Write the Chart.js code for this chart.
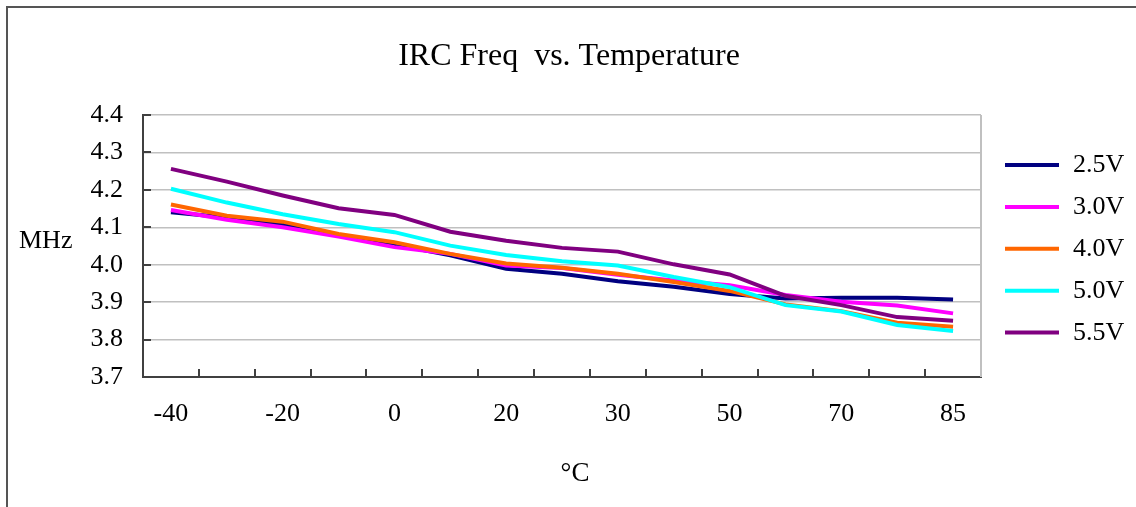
<!DOCTYPE html>
<html>
<head>
<meta charset="utf-8">
<script src="https://cdn.jsdelivr.net/npm/chart.js@4"></script>
<style>
  html, body { margin: 0; padding: 0; background: #ffffff; }
  canvas { display: block; }
</style>
</head>
<body>
<canvas id="irc-chart" width="1136" height="507"></canvas>
<script>
// data
const temps = ['-40', '-30', '-20', '-10', '0', '10', '20', '25', '30', '40', '50', '60', '70', '80', '85'];
const v25 = [4.140, 4.126, 4.109, 4.078, 4.054, 4.025, 3.989, 3.976, 3.956, 3.941, 3.922, 3.910, 3.912, 3.912, 3.907];
const v30 = [4.146, 4.120, 4.100, 4.075, 4.047, 4.029, 3.998, 3.991, 3.973, 3.958, 3.945, 3.919, 3.901, 3.891, 3.870];
const v40 = [4.161, 4.131, 4.115, 4.082, 4.060, 4.029, 4.003, 3.992, 3.976, 3.954, 3.930, 3.894, 3.876, 3.845, 3.834];
const v50 = [4.203, 4.166, 4.135, 4.109, 4.087, 4.051, 4.026, 4.009, 3.998, 3.967, 3.940, 3.892, 3.875, 3.839, 3.823];
const v55 = [4.256, 4.222, 4.185, 4.151, 4.133, 4.088, 4.064, 4.045, 4.035, 4.001, 3.974, 3.917, 3.892, 3.860, 3.850];
const seriesNames = ['2.5V', '3.0V', '4.0V', '5.0V', '5.5V'];
const seriesColors = ['#000080', '#FF00FF', '#FF6600', '#00FFFF', '#800080'];
const yMin = 3.7, yMax = 4.4, yStep = 0.1;

const FONT = "'Liberation Serif', 'Times New Roman', serif";

//chart plugins [frameAndTitles]
const frameAndTitles = {
    id: 'frameAndTitles',
    beforeDraw: (chart) => {
        const {ctx} = chart;
        ctx.save();
        ctx.fillStyle = '#ffffff';
        ctx.fillRect(0, 0, chart.width, chart.height);
        ctx.restore();
    },
    afterDraw: (chart, args, options) => {
        const {ctx, chartArea: {top, bottom, left, right}} = chart;
        ctx.save();

        // outer frame (runs off right / bottom)
        ctx.strokeStyle = '#555555';
        ctx.lineWidth = 2;
        ctx.strokeRect(7, 7, chart.width + 20, chart.height + 20);

        // plot right border
        ctx.strokeStyle = '#c0c0c0';
        ctx.lineWidth = 2;
        ctx.beginPath();
        ctx.moveTo(right, top);
        ctx.lineTo(right, bottom);
        ctx.stroke();

        ctx.fillStyle = '#000000';
        ctx.textBaseline = 'alphabetic';

        ctx.font = '32px ' + FONT;
        ctx.textAlign = 'center';
        ctx.fillText(options.title, 569, 65);

        ctx.font = '27px ' + FONT;
        ctx.fillText(options.xText, 575, 481);

        ctx.font = '26px ' + FONT;
        ctx.textAlign = 'left';
        ctx.fillText(options.yText, 19, 248);

        ctx.restore();
    }
}

//chart plugins [innerTicks]
const innerTicks = {
    id: 'innerTicks',
    afterDatasetsDraw: (chart) => {
        const {ctx, chartArea: {top, bottom, left, right}, scales: {x, y}} = chart;
        ctx.save();
        ctx.strokeStyle = '#404040';
        ctx.lineWidth = 2;
        ctx.beginPath();
        const n = x.getLabels().length;
        for (let i = 1; i <= n; i++) {
            const px = Math.round(left + i * (right - left) / n);
            ctx.moveTo(px, bottom);
            ctx.lineTo(px, bottom - 8);
        }
        y.ticks.forEach(t => {
            const py = Math.round(y.getPixelForValue(t.value));
            ctx.moveTo(left, py);
            ctx.lineTo(left + 8, py);
        });
        ctx.stroke();
        ctx.restore();
    }
}

//chart plugins [sideLegend]
const sideLegend = {
    id: 'sideLegend',
    afterDraw: (chart) => {
        const {ctx} = chart;
        ctx.save();
        ctx.font = '26px ' + FONT;
        ctx.textAlign = 'left';
        ctx.textBaseline = 'alphabetic';
        chart.data.datasets.forEach((ds, i) => {
            const yy = 165 + i * 41.9;
            ctx.strokeStyle = ds.borderColor;
            ctx.lineWidth = 4;
            ctx.beginPath();
            ctx.moveTo(1005, yy);
            ctx.lineTo(1059, yy);
            ctx.stroke();
            ctx.fillStyle = '#000000';
            ctx.fillText(ds.label, 1073, yy + 7);
        });
        ctx.restore();
    }
}

const ctx = document.getElementById('irc-chart');

const seriesValues = [v25, v30, v40, v50, v55];

let ircChart = new Chart(ctx, {
    type: 'line',
    data: {
        labels: temps,
        datasets: seriesValues.map((vals, i) => ({
            label: seriesNames[i],
            data: vals,
            borderColor: seriesColors[i],
            backgroundColor: seriesColors[i],
            borderWidth: 4,
            pointRadius: 0,
            tension: 0,
            order: seriesValues.length - i
        }))
    },
    options: {
        responsive: false,
        animation: false,
        layout: {
            padding: { top: 115, left: 0, right: 155, bottom: 0 }
        },
        scales: {
            x: {
                offset: true,
                grid: { display: false, drawTicks: false },
                border: { display: true, color: '#404040', width: 2 },
                ticks: {
                    autoSkip: false,
                    maxRotation: 0,
                    padding: 22,
                    color: '#000000',
                    font: { family: FONT, size: 26 },
                    callback: function(value, index) {
                        return index % 2 === 0 ? this.getLabelForValue(value) : '';
                    }
                },
                afterFit: (scale) => { scale.height = 130; }
            },
            y: {
                min: yMin,
                max: yMax,
                grid: { color: '#c0c0c0', lineWidth: 1.5, drawTicks: false },
                border: { display: true, color: '#404040', width: 2 },
                ticks: {
                    stepSize: yStep,
                    padding: 20,
                    color: '#000000',
                    font: { family: FONT, size: 26 },
                    callback: (v) => v.toFixed(1)
                },
                afterFit: (scale) => { scale.width = 143; }
            }
        },
        plugins: {
            legend: false,
            tooltip: { enabled: false },
            frameAndTitles: {
                title: 'IRC Freq  vs. Temperature',
                xText: '°C',
                yText: 'MHz'
            }
        }
    },
    plugins: [frameAndTitles, innerTicks, sideLegend]
});
</script>
</body>
</html>
